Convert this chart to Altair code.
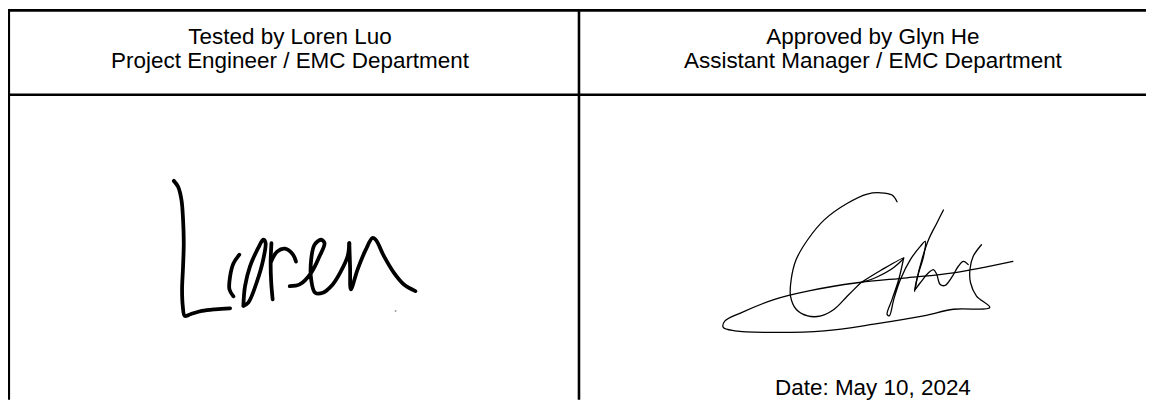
import altair as alt
import pandas as pd

# ---------------- table lines (page pixel coordinates) ----
rule_x = [8, 8, 8.8, 583]
rule_x2 = [1154, 1154, 8.8, 583]
rule_y = [9, 94, 8, 9]
rule_y2 = [9, 94, 401, 401]

# ---------------- texts ----------------
text_labels = [
    "Tested by Loren Luo",
    "Project Engineer / EMC Department",
    "Approved by Glyn He",
    "Assistant Manager / EMC Department",
    "Date: May 10, 2024",
]
text_x = [292, 292, 879, 879, 879]
text_y = [43, 67, 43, 67, 396]

# ---------------- signature "Loren" strokes ----------------
loren_L_x = [175, 179.3, 182.7, 184.3, 185, 184.3, 183.3, 184, 186, 191.7, 203.3, 216.7, 231.7]
loren_L_y = [180.7, 186.7, 200, 220, 243.3, 266.7, 290, 306.7, 316.7, 315, 311.7, 310, 309]
loren_o1_x = [241, 235, 231.7, 231, 235]
loren_o1_y = [255, 264, 276.7, 290, 297]
loren_o2_x = [245, 246.7, 251.7, 260, 265, 267.3, 265, 258.3, 250, 245]
loren_o2_y = [306.7, 286.7, 266.7, 248.3, 240, 242.7, 260, 283.3, 303.3, 306.7]
loren_r1_x = [273.3, 272.5, 273, 274.5]
loren_r1_y = [243.3, 262, 282, 300]
loren_r2_x = [273, 279, 287, 295, 298]
loren_r2_y = [262, 252, 249, 255, 262]
loren_e_x = [291.7, 301.7, 313.3, 321.7, 326.7, 323.3, 316.7, 313.3, 313.3, 317.3, 325, 335, 343.3, 350, 351.7]
loren_e_y = [286.7, 285, 273.3, 256.7, 243.3, 240, 245, 260, 280, 293.3, 293.3, 285, 271.7, 256.7, 243.3]
loren_n_x = [351.7, 352.5, 353.3, 360, 368.3, 375, 378.3, 386.7, 396.7, 406.7, 418.3]
loren_n_y = [243.3, 268, 290, 270, 250, 238.3, 240, 256.7, 273.3, 285, 291.7]
loren_dot_x = [398.3]
loren_dot_y = [311.7]

# ---------------- signature "Glyn" strokes ----------------
glyn_G_x = [903.3, 898.3, 886.7, 873.3, 853.3, 830, 813.3, 801.7, 796.7, 796, 801.7, 813.3, 826.7, 840, 853.3, 866.7]
glyn_G_y = [201.7, 195, 192.7, 194, 203.3, 220, 240, 260, 280, 296.7, 310, 316.7, 316.7, 310, 296.7, 283.3]
glyn_a_x = [866.7, 886.7, 910, 900, 882, 866.7]
glyn_a_y = [283.3, 271, 258.3, 268, 278, 283.3]
glyn_d_x = [910, 905, 898.3, 893.3, 895.5, 900, 906.7, 916.7, 926.7, 931.7, 930, 925, 921.7, 921]
glyn_d_y = [258.3, 280, 300, 315, 316.7, 300, 280, 260, 246.7, 241.7, 256.7, 273.3, 286.7, 291.7]
glyn_l_x = [950, 943.3, 935, 928.3, 923.3, 921.7]
glyn_l_y = [210, 223.3, 240, 260, 280, 290]
glyn_u_x = [921.7, 926.7, 935, 940, 943.3, 946.7, 951.7, 958.3, 965, 970, 975]
glyn_u_y = [290, 283.3, 273.3, 270, 275, 285, 286, 278, 266.7, 261.7, 265]
glyn_f_x = [988.3, 980, 976.7, 977.3, 983.3, 996.7, 960, 930, 880, 830, 780, 740, 728.3, 730, 746.7, 780, 813.3, 863.3, 913.3, 960, 1020]
glyn_f_y = [245, 256.7, 270, 283.3, 296.7, 308.3, 310, 316.7, 325, 331.7, 333.3, 331.7, 328.3, 321.7, 313.3, 300, 291.7, 283.3, 278.3, 273.3, 261.7]


def strokes_frame(strokes):
    rows = []
    for name, xs_, ys_ in strokes:
        for i, (a, b) in enumerate(zip(xs_, ys_)):
            rows.append({"stroke": name, "i": i, "x": a, "y": b})
    return pd.DataFrame(rows)


loren_df = strokes_frame([
    ("L", loren_L_x, loren_L_y), ("o1", loren_o1_x, loren_o1_y), ("o2", loren_o2_x, loren_o2_y),
    ("r1", loren_r1_x, loren_r1_y), ("r2", loren_r2_x, loren_r2_y), ("e", loren_e_x, loren_e_y),
    ("n", loren_n_x, loren_n_y),
])
glyn_df = strokes_frame([
    ("G", glyn_G_x, glyn_G_y), ("a", glyn_a_x, glyn_a_y), ("d", glyn_d_x, glyn_d_y),
    ("l", glyn_l_x, glyn_l_y), ("u", glyn_u_x, glyn_u_y), ("f", glyn_f_x, glyn_f_y),
])
dot_df = pd.DataFrame({"x": loren_dot_x, "y": loren_dot_y})

rules_df = pd.DataFrame({"x": rule_x, "x2": rule_x2, "y": rule_y, "y2": rule_y2})
text_df = pd.DataFrame({"label": text_labels, "x": text_x, "y": text_y})

xs = alt.Scale(domain=[8, 1154], nice=False, zero=False)
ys = alt.Scale(domain=[8, 401], nice=False, zero=False, reverse=True)

rules = alt.Chart(rules_df).mark_rule(color="black", strokeWidth=2.6).encode(
    x=alt.X("x:Q", scale=xs, axis=None), x2="x2:Q",
    y=alt.Y("y:Q", scale=ys, axis=None), y2="y2:Q",
)

texts = alt.Chart(text_df).mark_text(
    align="center", baseline="alphabetic", font="Liberation Sans", fontSize=22.6, color="black"
).encode(
    x=alt.X("x:Q", scale=xs, axis=None),
    y=alt.Y("y:Q", scale=ys, axis=None),
    text="label:N",
)

loren = alt.Chart(loren_df).mark_line(
    color="black", strokeWidth=3.8, strokeCap="round", strokeJoin="round", interpolate="catmull-rom"
).encode(
    x=alt.X("x:Q", scale=xs, axis=None),
    y=alt.Y("y:Q", scale=ys, axis=None),
    detail="stroke:N",
    order="i:Q",
)

dot = alt.Chart(dot_df).mark_point(filled=True, size=4, color="#888888", opacity=0.8).encode(
    x=alt.X("x:Q", scale=xs, axis=None),
    y=alt.Y("y:Q", scale=ys, axis=None),
)

glyn = alt.Chart(glyn_df).mark_line(
    color="black", strokeWidth=1.3, strokeCap="round", strokeJoin="round", interpolate="catmull-rom"
).encode(
    x=alt.X("x:Q", scale=xs, axis=None),
    y=alt.Y("y:Q", scale=ys, axis=None),
    detail="stroke:N",
    order="i:Q",
)

chart = alt.layer(rules, texts, loren, dot, glyn).properties(
    width=1146, height=393, padding=0, autosize=alt.AutoSizeParams(type="none")
).configure_view(stroke=None)

chart.save("out.html", embed_options={"renderer": "svg", "actions": False})
